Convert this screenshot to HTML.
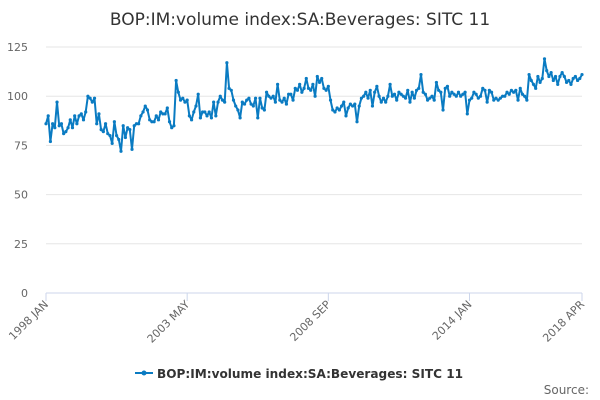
<!DOCTYPE html>
<html><head><meta charset="utf-8"><style>
body{margin:0;background:#fff;}
svg{display:block;font-family:"DejaVu Sans","Liberation Sans",sans-serif;}
</style></head><body>
<svg id="chart" width="600" height="400">
<text x="300" y="25" text-anchor="middle" font-size="17" fill="#333">BOP:IM:volume index:SA:Beverages: SITC 11</text>
<g id="grid"></g><g id="xaxis"></g><g id="series"></g>
<g>
<line x1="135" y1="373" x2="153" y2="373" stroke="#0a7bc2" stroke-width="2"/>
<circle cx="144" cy="373" r="2.5" fill="#0a7bc2"/>
<text x="157" y="378" font-size="12.1" font-weight="bold" fill="#333">BOP:IM:volume index:SA:Beverages: SITC 11</text>
</g>
<text x="589" y="394" text-anchor="end" font-size="12" fill="#666">Source:</text>
</svg>
<script>
const yTicks=[0,25,50,75,100,125];
const xTickLabels=["1998 JAN","2003 MAY","2008 SEP","2014 JAN","2018 APR"];
const xTickIndex=[0,64,128,192,243];
const values=[86,90,77,86,84,97,85,86,81,82,84,88,
84,90,86,90,91,88,92,100,99,97,99,86,
91,83,82,86,81,80,76,87,80,78,72,
85,79,84,83,73,
85,86,86,90,92,95,
93,88,87,87,90,88,92,91,91,94,87,84,85,108,
102,98,99,97,98,90,88,92,95,101,89,92,92,90,92,89,97,90,97,100,98,97,117,
104,103,98,95,93,89,97,96,98,99,96,95,99,89,99,94,93,102,100,99,100,97,106,98,97,99,96,101,101,98,104,103,106,102,104,109,104,103,106,100,110,
107,109,104,103,105,98,93,92,94,93,95,97,90,94,96,95,96,87,95,99,100,102,99,103,95,102,105,100,97,99,97,100,106,100,101,98,102,101,100,99,103,97,102,99,103,104,111,
102,101,98,99,100,98,107,103,102,93,
104,105,100,102,101,100,102,100,101,102,91,
98,99,102,101,99,100,104,103,97,103,102,98,99,98,99,100,100,102,101,103,102,103,98,104,101,100,98,111,
108,106,104,110,107,109,119,
113,110,112,108,110,106,110,112,110,107,108,106,109,110,108,109,111];
const X0=46,X1=582,Y0=293,YTOP=47;
const xs=i=>X0+(X1-X0)*i/(values.length-1);
const ys=v=>Y0-(Y0-YTOP)*v/125;
const NS="http://www.w3.org/2000/svg";
const grid=document.getElementById('grid'),xa=document.getElementById('xaxis'),se=document.getElementById('series');
yTicks.forEach(t=>{
 const l=document.createElementNS(NS,'line');
 l.setAttribute('x1',X0);l.setAttribute('x2',X1);l.setAttribute('y1',ys(t));l.setAttribute('y2',ys(t));
 l.setAttribute('stroke',t===0?'#ccd6eb':'#e6e6e6');
 
 
 grid.appendChild(l);
 const tx=document.createElementNS(NS,'text');
 tx.setAttribute('x',28);tx.setAttribute('y',ys(t)+4);tx.setAttribute('text-anchor','end');
 tx.setAttribute('font-size','11');tx.setAttribute('fill','#666');tx.textContent=t;
 
 
 grid.appendChild(tx);
});
xTickLabels.forEach((lab,k)=>{
 const x=xs(xTickIndex[k]);
 const l=document.createElementNS(NS,'line');
 l.setAttribute('x1',x);l.setAttribute('x2',x);l.setAttribute('y1',Y0);l.setAttribute('y2',Y0+8);l.setAttribute('stroke','#ccd6eb');
 
 
 xa.appendChild(l);
 const tx=document.createElementNS(NS,'text');
 tx.setAttribute('x',x+3);tx.setAttribute('y',Y0+12);tx.setAttribute('text-anchor','end');
 tx.setAttribute('font-size','11');tx.setAttribute('fill','#666');
 tx.setAttribute('transform','rotate(-45 '+(x+3)+' '+(Y0+12)+')');
 tx.textContent=lab;
 
 
 xa.appendChild(tx);
});
const p=document.createElementNS(NS,'polyline');
p.setAttribute('points',values.map((v,i)=>xs(i).toFixed(1)+','+ys(v).toFixed(1)).join(' '));
p.setAttribute('fill','none');p.setAttribute('stroke','#0a7bc2');p.setAttribute('stroke-width','2');p.setAttribute('stroke-linejoin','round');


se.appendChild(p);
values.forEach((v,i)=>{
 const c=document.createElementNS(NS,'circle');
 c.setAttribute('cx',xs(i));c.setAttribute('cy',ys(v));c.setAttribute('r','1.6');c.setAttribute('fill','#0a7bc2');
 
 
 se.appendChild(c);
});
</script>
</body></html>
